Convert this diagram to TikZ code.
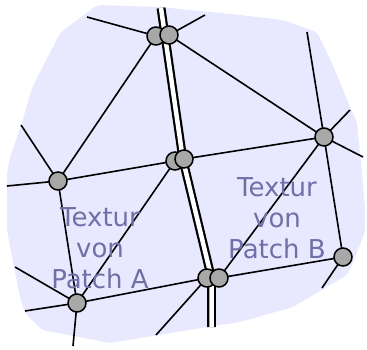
\documentclass[tikz,border=0pt]{standalone}
\usepackage{fontspec}
\setsansfont{DejaVu Sans}
\definecolor{patchbg}{RGB}{232,232,255}
\definecolor{texcol}{RGB}{112,112,168}
\definecolor{vertfill}{RGB}{168,168,168}
\begin{document}
\begin{tikzpicture}[x=1pt,y=-1pt,
  edge/.style={line width=1.6pt,black},
  seam/.style={line width=2.2pt,double=white,double distance=4.5pt,black},
  vert/.style={circle,draw=black,line width=1.5pt,fill=vertfill,minimum size=18pt,inner sep=0pt},
  label/.style={font=\sffamily\fontsize{26}{31}\selectfont,text=texcol,align=center,inner sep=0pt}]
\useasboundingbox (0,0) rectangle (367,350);
% patch region
\fill[patchbg,rounded corners=4pt] (97,5) -- (160,7) -- (240,15) -- (283,20) -- (317,32) -- (332,63)
  -- (350,107) -- (357,122) -- (362,173) -- (365,208) -- (365,232) -- (350,270) -- (347,275)
  -- (293,307) -- (240,322) -- (220,325) -- (110,343) -- (42,330) -- (25,313) -- (20,297)
  -- (12,257) -- (7,230) -- (7,173) -- (10,157) -- (22,123) -- (32,88) -- (60,33) -- cycle;
% vertex positions
\coordinate (tl) at (156,36);
\coordinate (tr) at (169,35);
\coordinate (ml) at (175,161);
\coordinate (mr) at (184,159);
\coordinate (bl) at (207,278);
\coordinate (br) at (219,278);
\coordinate (L) at (58,181);
\coordinate (BL) at (77,303);
\coordinate (R) at (324,137);
\coordinate (RB) at (343,257);
% free ends of the mesh
\coordinate (e1) at (87,17);
\coordinate (e2) at (205,15);
\coordinate (e3) at (307,32);
\coordinate (e4) at (350,110);
\coordinate (e5) at (363,157);
\coordinate (e6) at (21,125);
\coordinate (e7) at (7,186);
\coordinate (e8) at (15,267);
\coordinate (e9) at (25,311);
\coordinate (e10) at (73,346);
\coordinate (e11) at (156,335);
\coordinate (e12) at (322,288);
% seam end points
\coordinate (s0) at (161,8);
\coordinate (s1) at (183,160);
\coordinate (s2) at (211.5,278);
\coordinate (s3) at (211.5,327);
% mesh edges
\draw[edge] (tl) -- (e1);
\draw[edge] (tl) -- (L);
\draw[edge] (tr) -- (e2);
\draw[edge] (tr) -- (R);
\draw[edge] (R) -- (e3);
\draw[edge] (R) -- (e4);
\draw[edge] (R) -- (e5);
\draw[edge] (R) -- (mr);
\draw[edge] (R) -- (RB);
\draw[edge] (R) -- (br);
\draw[edge] (ml) -- (L);
\draw[edge] (ml) -- (BL);
\draw[edge] (L) -- (e6);
\draw[edge] (L) -- (e7);
\draw[edge] (L) -- (BL);
\draw[edge] (BL) -- (e8);
\draw[edge] (BL) -- (e9);
\draw[edge] (BL) -- (e10);
\draw[edge] (BL) -- (bl);
\draw[edge] (bl) -- (e11);
\draw[edge] (br) -- (RB);
\draw[edge] (RB) -- (e12);
% seam between the patches
\draw[seam] (s0) -- (s1) -- (s2) -- (s3);
% vertices
\node[vert] (vtl) at (tl) {};
\node[vert] (vtr) at (tr) {};
\node[vert] (vml) at (ml) {};
\node[vert] (vmr) at (mr) {};
\node[vert] (vbl) at (bl) {};
\node[vert] (vbr) at (br) {};
\node[vert] (vL) at (L) {};
\node[vert] (vBL) at (BL) {};
\node[vert] (vR) at (R) {};
\node[vert] (vRB) at (RB) {};
% texture labels
\node[label] (texA) at (100,248) {Textur\\von\\Patch A};
\node[label] (texB) at (277,218) {Textur\\von\\Patch B};
\end{tikzpicture}
\end{document}
